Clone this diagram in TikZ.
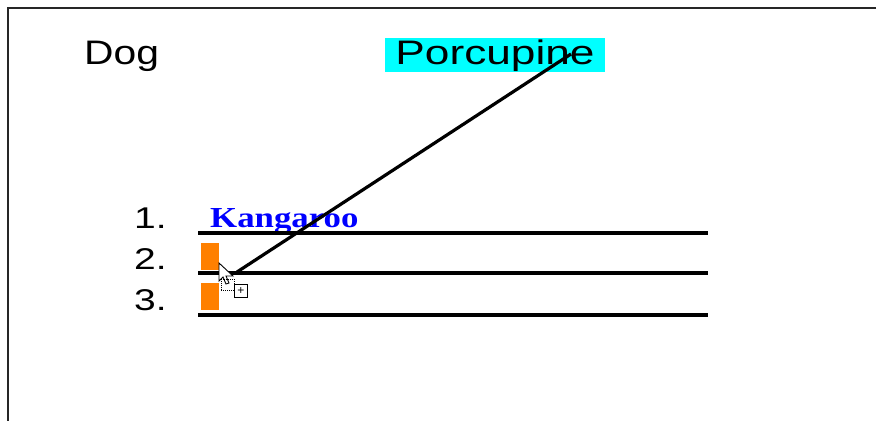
\documentclass[tikz,border=0pt]{standalone}
\usepackage{fontspec}
\setmainfont{Liberation Sans}
\newfontfamily\serifbold{Liberation Serif}
\usepackage{tikz}
\usetikzlibrary{positioning}
\definecolor{aqua}{RGB}{0,255,255}
\definecolor{tagorange}{RGB}{255,128,0}

\begin{document}
\begin{tikzpicture}[x=1pt, y=-1pt,
        word/.style={anchor=base west, inner sep=0pt, font=\fontsize{34}{34}\selectfont},
        num/.style={anchor=base west, inner sep=0pt, font=\fontsize{30}{30}\selectfont},
        slot/.style={line width=3.2pt},
        tag/.style={fill=tagorange, inner sep=0pt, minimum width=18pt, minimum height=27pt}]
        \useasboundingbox (0,0) rectangle (879,421);
        \draw[line width=2.4pt, black!85] (876,8) -- (8,8) -- (8,421);

        \node[word] (dog) at (84,64) {\scalebox{1.2}[1]{Dog}};
        \node[fill=aqua, inner sep=0pt, text height=26pt, text depth=8pt, minimum width=220pt, anchor=base] (porc) at (495,64) {\fontsize{34}{34}\selectfont\scalebox{1.3}[1]{Porcupine}};

        \node[num] (one) at (134,228) {\scalebox{1.3}[1]{1.}};
        \node[num] (two) at (134,269) {\scalebox{1.3}[1]{2.}};
        \node[num] (three) at (134,310) {\scalebox{1.3}[1]{3.}};
        \node[anchor=base west, inner sep=0pt, text=blue] (kanga) at (210,227) {\serifbold\bfseries\fontsize{29}{29}\selectfont\scalebox{1.2}[1]{Kangaroo}};

        \draw[slot] (198,233) -- (708,233);
        \draw[slot] (198,273) -- (708,273);
        \draw[slot] (198,315) -- (708,315);

        \node[tag, anchor=north west] (tagtwo) at (201,243) {};
        \node[tag, anchor=north west] (tagthree) at (201,283) {};

        % drag cursor
        \draw[fill=white, line width=0.9pt] (219,263) -- (219,281) -- (223,277) -- (226,284) -- (229,283) -- (226,276) -- (233,276) -- cycle;
        \draw[densely dotted, line width=0.9pt] (221,279) rectangle (234,290);
        \node[draw, fill=white, line width=0.9pt, inner sep=0pt, minimum size=13pt, font=\fontsize{12}{12}\selectfont] (plus) at (241,291) {+};

        \coordinate (grab) at (237,272);
        \coordinate (drop) at (571,54);
        \draw[line width=3.2pt] (grab) -- (drop);
\end{tikzpicture}
\end{document}
